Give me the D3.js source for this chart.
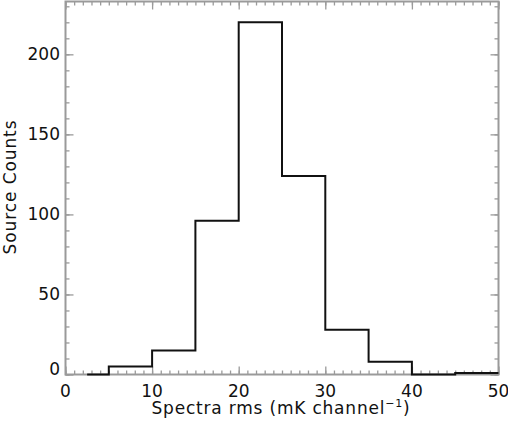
<!DOCTYPE html>
<html>
<head>
<meta charset="utf-8">
<script src="https://cdn.jsdelivr.net/npm/d3@7"></script>
<style>
  body { margin: 0; background: #fff; }
  text { font-family: "DejaVu Sans", sans-serif; fill: #111; }
</style>
</head>
<body>
<div class="chart"></div>
<script>
// bin centres (mK channel^-1) and source counts per 5-wide bin
var binCenters = [2.5, 7.5, 12.5, 17.5, 22.5, 27.5, 32.5, 37.5, 42.5, 47.5];
var counts = [0, 5, 15, 96, 220, 124, 28, 8, 0, 1];
var binWidth = 5;
var xTicks = [0, 10, 20, 30, 40, 50];
var yTicks = [0, 50, 100, 150, 200];

var width = 508, height = 426;
var plotLeft = 65.5, plotRight = 498.5, plotTop = 1.5, plotBottom = 374.5;

var svg = d3.select(".chart").append("svg")
  .attr("width", width)
  .attr("height", height);

var x = d3.scaleLinear().domain([0, 50]).range([plotLeft, plotRight]);
var y = d3.scaleLinear().domain([0, 233]).range([plotBottom, plotTop]);

var axisColor = "#9a9a9a";

// minor ticks
var xMinor = d3.range(0, 51, 1);
var yMinor = d3.range(0, 231, 10);

function tickGroup(axis, ticks, size) {
  return axis.tickValues(ticks).tickSize(size).tickFormat("");
}

function styleAxis(g) {
  g.selectAll("path").remove();
  g.selectAll("line").attr("stroke", axisColor).attr("stroke-width", 1.3);
}

// bottom
svg.append("g").attr("transform", "translate(0," + plotBottom + ")")
  .call(tickGroup(d3.axisTop(x), xMinor, 4)).call(styleAxis);
svg.append("g").attr("transform", "translate(0," + plotBottom + ")")
  .call(tickGroup(d3.axisTop(x), xTicks, 8)).call(styleAxis);
// top
svg.append("g").attr("transform", "translate(0," + plotTop + ")")
  .call(tickGroup(d3.axisBottom(x), xMinor, 4)).call(styleAxis);
svg.append("g").attr("transform", "translate(0," + plotTop + ")")
  .call(tickGroup(d3.axisBottom(x), xTicks, 8)).call(styleAxis);
// left
svg.append("g").attr("transform", "translate(" + plotLeft + ",0)")
  .call(tickGroup(d3.axisRight(y), yMinor, 4)).call(styleAxis);
svg.append("g").attr("transform", "translate(" + plotLeft + ",0)")
  .call(tickGroup(d3.axisRight(y), yTicks, 8)).call(styleAxis);
// right
svg.append("g").attr("transform", "translate(" + plotRight + ",0)")
  .call(tickGroup(d3.axisLeft(y), yMinor, 4)).call(styleAxis);
svg.append("g").attr("transform", "translate(" + plotRight + ",0)")
  .call(tickGroup(d3.axisLeft(y), yTicks, 8)).call(styleAxis);

// frame
svg.append("rect")
  .attr("x", plotLeft).attr("y", plotTop)
  .attr("width", plotRight - plotLeft).attr("height", plotBottom - plotTop)
  .attr("fill", "none")
  .attr("stroke", axisColor)
  .attr("stroke-width", 2);

// tick labels
svg.selectAll(".xlab").data(xTicks).enter().append("text")
  .attr("class", "xlab")
  .attr("x", function(d) { return x(d); })
  .attr("y", 397)
  .attr("text-anchor", "middle")
  .style("font-size", "17px")
  .text(function(d) { return d; });

svg.selectAll(".ylab").data(yTicks).enter().append("text")
  .attr("class", "ylab")
  .attr("x", 60)
  .attr("y", function(d) { return d === 0 ? y(d) - 5 : y(d); })
  .attr("dy", "0.35em")
  .attr("text-anchor", "end")
  .style("font-size", "17px")
  .text(function(d) { return d; });

// axis titles
var xt = svg.append("text")
  .attr("x", 281)
  .attr("y", 414)
  .attr("text-anchor", "middle")
  .style("font-size", "17px")
  .style("letter-spacing", "0.8px");
xt.append("tspan").text("Spectra rms (mK channel");
xt.append("tspan").attr("dy", -7).style("font-size", "11px").text("\u22121");
xt.append("tspan").attr("dy", 7).text(")");

svg.append("text")
  .attr("transform", "translate(16,187) rotate(-90)")
  .attr("text-anchor", "middle")
  .style("font-size", "17px")
  .style("letter-spacing", "0.9px")
  .text("Source Counts");

// histogram step line
var pts = [];
binCenters.forEach(function(c, i) {
  var x0 = i === 0 ? c : c - binWidth / 2;
  pts.push([x0, counts[i]]);
  pts.push([c + binWidth / 2, counts[i]]);
});

var line = d3.line()
  .x(function(d) { return x(d[0]); })
  .y(function(d) { return y(d[1]); });

svg.append("path")
  .datum(pts)
  .attr("d", line)
  .attr("fill", "none")
  .attr("stroke", "#111")
  .attr("stroke-width", 2);
</script>
</body>
</html>
